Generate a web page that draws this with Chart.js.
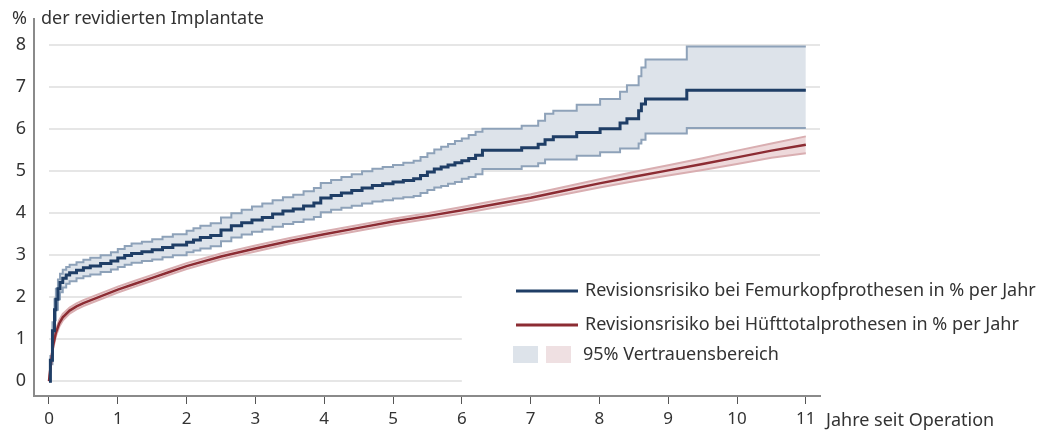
<!DOCTYPE html>
<html>
<head>
<meta charset="utf-8">
<title>Revisionsrisiko</title>
<script src="https://cdn.jsdelivr.net/npm/chart.js@4.4.1/dist/chart.umd.min.js"></script>
<style>
    html, body {
        margin: 0;
        padding: 0;
        background: #ffffff;
    }
    #chart-box {
        position: relative;
        width: 1045px;
        height: 432px;
    }
</style>
</head>
<body>
<div id="chart-box">
    <canvas id="revision-chart" width="1045" height="432"></canvas>
</div>
<script>

var blueTimes = [0, 0.02, 0.05, 0.08, 0.1, 0.13, 0.16, 0.2, 0.25, 0.3, 0.4, 0.5, 0.6, 0.75, 0.9, 1.0, 1.1, 1.2, 1.35, 1.5, 1.65, 1.8, 2.0, 2.1, 2.2, 2.35, 2.5, 2.65, 2.8, 2.95, 3.1, 3.25, 3.4, 3.55, 3.7, 3.85, 3.95, 4.1, 4.25, 4.4, 4.55, 4.7, 4.85, 5.0, 5.15, 5.3, 5.4, 5.5, 5.6, 5.7, 5.8, 5.9, 6.0, 6.1, 6.2, 6.3, 6.87, 7.11, 7.21, 7.33, 7.67, 8.01, 8.3, 8.4, 8.57, 8.61, 8.67, 9.27, 11.0];
var femurRisk = [0, 0.5, 1.2, 1.7, 1.95, 2.2, 2.35, 2.45, 2.53, 2.58, 2.64, 2.7, 2.74, 2.8, 2.86, 2.93, 2.99, 3.04, 3.08, 3.13, 3.18, 3.24, 3.31, 3.36, 3.42, 3.47, 3.6, 3.7, 3.77, 3.84, 3.9, 3.98, 4.05, 4.1, 4.17, 4.24, 4.36, 4.42, 4.48, 4.54, 4.6, 4.66, 4.7, 4.74, 4.78, 4.82, 4.9, 4.98, 5.05, 5.1, 5.15, 5.2, 5.25, 5.3, 5.38, 5.5, 5.56, 5.64, 5.75, 5.82, 5.92, 6.01, 6.15, 6.25, 6.44, 6.6, 6.72, 6.93, 6.93];
var femurUpper = [0, 0.6, 1.4, 1.95, 2.2, 2.42, 2.56, 2.65, 2.72, 2.77, 2.83, 2.89, 2.94, 3.0, 3.07, 3.15, 3.22, 3.28, 3.32, 3.38, 3.44, 3.5, 3.58, 3.64, 3.7, 3.76, 3.9, 4.0, 4.08, 4.16, 4.23, 4.31, 4.38, 4.44, 4.52, 4.6, 4.72, 4.79, 4.86, 4.93, 5.0, 5.06, 5.1, 5.15, 5.2, 5.25, 5.34, 5.43, 5.52, 5.58, 5.65, 5.72, 5.78, 5.86, 5.94, 6.01, 6.08, 6.2, 6.37, 6.44, 6.58, 6.72, 6.89, 7.05, 7.26, 7.47, 7.66, 7.97, 7.97];
var femurLower = [0, 0.4, 1.0, 1.45, 1.7, 1.95, 2.12, 2.23, 2.32, 2.38, 2.45, 2.5, 2.54, 2.6, 2.66, 2.72, 2.77, 2.82, 2.86, 2.9, 2.95, 3.0, 3.07, 3.11, 3.16, 3.21, 3.33, 3.42, 3.49, 3.56, 3.61, 3.68, 3.74, 3.79, 3.85, 3.91, 4.02, 4.08, 4.13, 4.18, 4.23, 4.28, 4.31, 4.35, 4.38, 4.41, 4.48, 4.55, 4.61, 4.65, 4.7, 4.74, 4.82, 4.86, 4.93, 5.05, 5.12, 5.19, 5.28, 5.28, 5.37, 5.45, 5.54, 5.54, 5.66, 5.75, 5.9, 6.03, 6.03];

var redTimes = [0, 0.03, 0.06, 0.1, 0.15, 0.2, 0.3, 0.4, 0.5, 0.75, 1, 1.25, 1.5, 1.75, 2, 2.5, 3, 3.5, 4, 4.5, 5, 5.5, 6, 6.5, 7, 7.5, 8, 8.5, 9, 9.5, 10, 10.5, 11];
var hipRisk = [0, 0.45, 0.85, 1.15, 1.38, 1.52, 1.68, 1.78, 1.86, 2.02, 2.18, 2.32, 2.46, 2.6, 2.74, 2.97, 3.16, 3.34, 3.5, 3.65, 3.8, 3.93, 4.07, 4.22, 4.37, 4.54, 4.71, 4.87, 5.02, 5.17, 5.33, 5.49, 5.63];
var hipUpper = [0, 0.52, 0.93, 1.23, 1.46, 1.6, 1.75, 1.85, 1.93, 2.09, 2.25, 2.39, 2.53, 2.67, 2.81, 3.04, 3.23, 3.41, 3.57, 3.72, 3.87, 4.0, 4.15, 4.3, 4.45, 4.63, 4.81, 4.98, 5.14, 5.31, 5.49, 5.66, 5.83];
var hipLower = [0, 0.38, 0.77, 1.07, 1.3, 1.44, 1.61, 1.71, 1.79, 1.95, 2.11, 2.25, 2.39, 2.53, 2.67, 2.9, 3.09, 3.27, 3.43, 3.58, 3.73, 3.86, 3.99, 4.14, 4.29, 4.45, 4.61, 4.76, 4.9, 5.03, 5.17, 5.32, 5.43];

var yTicks = [0, 1, 2, 3, 4, 5, 6, 7, 8];
var xTicks = [0, 1, 2, 3, 4, 5, 6, 7, 8, 9, 10, 11];

var yTitle = "der revidierten Implantate";
var yUnit = "%";
var xTitle = "Jahre seit Operation";
var legendFemur = "Revisionsrisiko bei Femurkopfprothesen in % per Jahr";
var legendHip = "Revisionsrisiko bei Hüfttotalprothesen in % per Jahr";
var legendBand = "95% Vertrauensbereich";

var fontName = "'Noto Sans', sans-serif";
var textColor = "#333333";

function toPoints(times, values) {

    var points = [];
    for (var i = 0; i < times.length; i++) {
        points.push({ x: times[i], y: values[i] });
    }
    return points;

}

// partial gridlines: 0-2 stop where the legend starts
var gridPlugin = {
    id: "partialGrid",
    beforeDatasetsDraw: function (chart) {

        var ctx = chart.ctx;
        var xs = chart.scales.x;
        var ys = chart.scales.y;

        ctx.save();
        ctx.strokeStyle = "#e6e6e6";
        ctx.lineWidth = 2;
        for (var tick of yTicks) {
            var y = Math.round(ys.getPixelForValue(tick));
            var xEnd = tick <= 2 ? xs.getPixelForValue(6) : chart.chartArea.right;
            ctx.beginPath();
            ctx.moveTo(xs.getPixelForValue(0), y);
            ctx.lineTo(xEnd, y);
            ctx.stroke();
        }
        ctx.restore();

    }
};

var labelPlugin = {
    id: "extraLabels",
    afterDraw: function (chart) {

        var ctx = chart.ctx;

        ctx.save();
        ctx.fillStyle = textColor;
        ctx.textBaseline = "middle";
        ctx.font = "18px " + fontName;

        ctx.textAlign = "right";
        ctx.fillText(yUnit, 27, 19);
        ctx.textAlign = "left";
        ctx.fillText(yTitle, 41, 19);
        ctx.fillText(xTitle, 826, 421);

        // legend
        ctx.lineWidth = 3;
        ctx.strokeStyle = "#1f3e66";
        ctx.beginPath();
        ctx.moveTo(516, 291);
        ctx.lineTo(578, 291);
        ctx.stroke();

        ctx.strokeStyle = "#8c2c33";
        ctx.beginPath();
        ctx.moveTo(516, 325);
        ctx.lineTo(578, 325);
        ctx.stroke();

        ctx.fillStyle = "#dde3ea";
        ctx.fillRect(513, 346, 25, 17);
        ctx.fillStyle = "#efe0e2";
        ctx.fillRect(546, 346, 25, 17);

        ctx.fillStyle = textColor;
        ctx.fillText(legendFemur, 585, 291);
        ctx.fillText(legendHip, 585, 325);
        ctx.fillText(legendBand, 583, 355);
        ctx.restore();

    }
};

function createRevisionChart() {

    new Chart(
        document.getElementById("revision-chart"),
        {
            type: "line",
            data: {
                datasets: [
                    {
                        label: legendFemur,
                        data: toPoints(blueTimes, femurRisk),
                        borderColor: "#1f3e66",
                        borderWidth: 3,
                        stepped: true,
                        fill: false,
                        order: 0
                    },
                    {
                        label: legendHip,
                        data: toPoints(redTimes, hipRisk),
                        borderColor: "#8c2c33",
                        borderWidth: 2.5,
                        fill: false,
                        order: 1
                    },
                    {
                        label: "femur upper",
                        data: toPoints(blueTimes, femurUpper),
                        borderColor: "#8ea2b9",
                        borderWidth: 2,
                        stepped: true,
                        fill: "+1",
                        backgroundColor: "#dde3ea",
                        order: 4
                    },
                    {
                        label: "femur lower",
                        data: toPoints(blueTimes, femurLower),
                        borderColor: "#8ea2b9",
                        borderWidth: 2,
                        stepped: true,
                        fill: false,
                        order: 3
                    },
                    {
                        label: "hip upper",
                        data: toPoints(redTimes, hipUpper),
                        borderColor: "#d9aeb1",
                        borderWidth: 2,
                        fill: "+1",
                        backgroundColor: "#eed9db",
                        order: 6
                    },
                    {
                        label: "hip lower",
                        data: toPoints(redTimes, hipLower),
                        borderColor: "#d9aeb1",
                        borderWidth: 2,
                        fill: false,
                        order: 5
                    }
                ]
            },
            options: {
                responsive: false,
                animation: false,
                events: [],
                layout: {
                    padding: { top: 15, right: 225, left: 0, bottom: 0 }
                },
                elements: {
                    point: { radius: 0 },
                    line: { tension: 0 }
                },
                scales: {
                    x: {
                        type: "linear",
                        min: -0.218,
                        max: 11.206,
                        afterBuildTicks: function (scale) {
                            scale.ticks = xTicks.map(function (v) { return { value: v }; });
                        },
                        afterFit: function (scale) {
                            scale.height = 36;
                        },
                        grid: {
                            drawOnChartArea: false,
                            drawTicks: true,
                            tickLength: 8,
                            color: "#555555",
                            lineWidth: 1
                        },
                        border: {
                            display: true,
                            color: "#8a8a8a",
                            width: 2
                        },
                        ticks: {
                            autoSkip: false,
                            maxRotation: 0,
                            padding: 5,
                            color: textColor,
                            font: { family: fontName, size: 17 }
                        }
                    },
                    y: {
                        type: "linear",
                        min: -0.354,
                        max: 8.63,
                        afterBuildTicks: function (scale) {
                            scale.ticks = yTicks.map(function (v) { return { value: v }; });
                        },
                        afterFit: function (scale) {
                            scale.width = 34;
                        },
                        grid: {
                            display: true,
                            drawOnChartArea: false,
                            drawTicks: false
                        },
                        border: {
                            display: true,
                            color: "#8a8a8a",
                            width: 2
                        },
                        ticks: {
                            padding: 8,
                            color: textColor,
                            font: { family: fontName, size: 18 }
                        }
                    }
                },
                plugins: {
                    legend: { display: false },
                    tooltip: { enabled: false },
                    filler: { propagate: false }
                }
            },
            plugins: [gridPlugin, labelPlugin]
        }
    );

}

createRevisionChart();

</script>
</body>
</html>
